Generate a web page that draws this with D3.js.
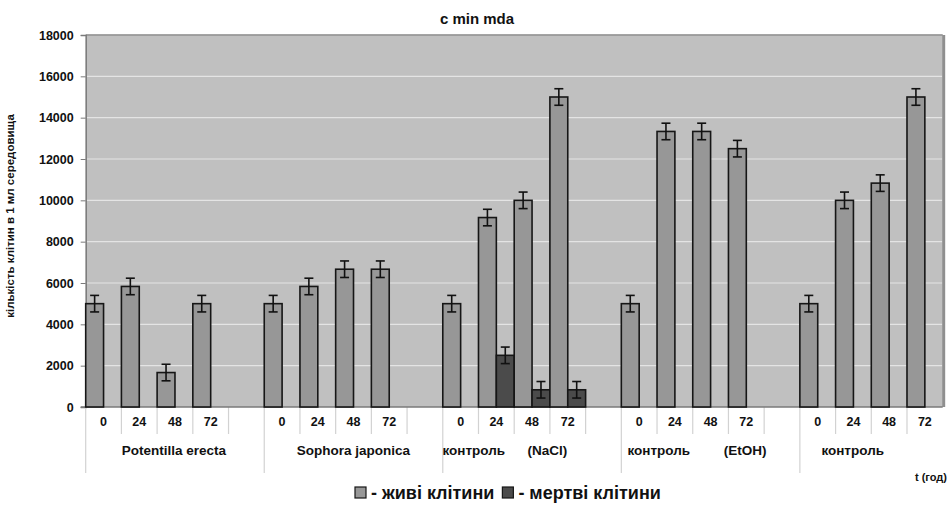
<!DOCTYPE html>
<html>
<head>
<meta charset="utf-8">
<script src="https://cdn.jsdelivr.net/npm/d3@7"></script>
<style>
    body { margin: 0; background: #fff; }
    svg { display: block; font-family: "Liberation Sans", Arial, sans-serif; font-weight: bold; }
</style>
</head>
<body>
<svg width="950" height="510"></svg>
<script>
// ---- Dados
const groups = ['Potentilla erecta', 'Sophora japonica', 'контроль      (NaCl)', 'контроль         (EtOH)', 'контроль'];
const times = ['0', '24', '48', '72'];
const live = [
    [5000, 5833, 1667, 5000],
    [5000, 5833, 6667, 6667],
    [5000, 9167, 10000, 15000],
    [5000, 13333, 13333, 12500],
    [5000, 10000, 10833, 15000]
];
const dead = [
    [0, 0, 0, 0],
    [0, 0, 0, 0],
    [0, 2500, 833, 833],
    [0, 0, 0, 0],
    [0, 0, 0, 0]
];
const errLive = 400;
const errDead = 400;
const yTicks = [0, 2000, 4000, 6000, 8000, 10000, 12000, 14000, 16000, 18000];
const legendLabels = ['- живі клітини', '- мертві клітини'];

const svg = d3.select('svg');
const margens = { left: 85.7, right: 7.3, top: 35, bottom: 103 };
const W = 950, H = 510;
const colors = { live: '#979797', dead: '#4b4b4b', bg: '#c0c0c0' };

// ---- Slots (último grupo sem a coluna vazia)
const slots = [];
groups.forEach((g, gi) => {
    times.forEach((t, ti) => slots.push({ key: gi + '-' + t, g: gi, t: t, ti: ti }));
    if (gi < groups.length - 1) slots.push({ key: gi + '-blank', g: gi, t: '', ti: -1 });
});

const mapX = d3.scaleBand().domain(slots.map(d => d.key)).range([margens.left, W - margens.right]).padding(0);
const mapS = d3.scaleBand().domain(['live', 'dead']).range([0, mapX.bandwidth()]).padding(0);
const mapY = d3.scaleLinear().domain([0, 18000]).range([H - margens.bottom, margens.top]);

// ---- Área do gráfico
svg.append('rect')
    .attr('x', margens.left).attr('y', margens.top)
    .attr('width', W - margens.right - margens.left)
    .attr('height', mapY(0) - margens.top)
    .attr('fill', colors.bg);

svg.append('g')
    .selectAll('line')
    .data(yTicks.filter(d => d > 0))
    .join('line')
    .attr('x1', margens.left).attr('x2', W - margens.right)
    .attr('y1', d => mapY(d)).attr('y2', d => mapY(d))
    .attr('stroke', '#e4e4e4').attr('stroke-width', 1.2);

// bordas
svg.append('line')
    .attr('x1', margens.left).attr('x2', W - margens.right)
    .attr('y1', margens.top).attr('y2', margens.top)
    .attr('stroke', '#8a8a8a').attr('stroke-width', 1.5);
svg.append('line')
    .attr('x1', W - margens.right + 1).attr('x2', W - margens.right + 1)
    .attr('y1', margens.top).attr('y2', mapY(0))
    .attr('stroke', '#8f8f8f').attr('stroke-width', 3);

// ---- Eixo Y
const yAxis = d3.axisLeft(mapY).tickValues(yTicks).tickSize(5).tickPadding(7).tickFormat(d3.format('d'));
const gY = svg.append('g')
    .attr('transform', `translate(${margens.left}, 0)`)
    .call(yAxis);
gY.select('.domain').attr('stroke', '#7a7a7a').attr('stroke-width', 1.5);
gY.selectAll('.tick line').attr('stroke', '#7a7a7a');
gY.selectAll('.tick text')
    .attr('font-family', '"Liberation Sans", Arial, sans-serif')
    .attr('font-weight', 'bold').attr('font-size', 12.5).attr('fill', '#111');

svg.append('text')
    .attr('transform', `translate(14, 216) rotate(-90)`)
    .attr('text-anchor', 'middle')
    .attr('font-size', 11.5).attr('fill', '#111')
    .text('кількість клітин в 1 мл середовища');

// ---- Eixo X (categorias em dois níveis)
const base = mapY(0);
const xg = svg.append('g');
xg.selectAll('line.sep')
    .data(slots.filter((d, i) => i > 0 && d.g === slots[i - 1].g))
    .join('line')
    .attr('class', 'sep')
    .attr('x1', d => mapX(d.key)).attr('x2', d => mapX(d.key))
    .attr('y1', base).attr('y2', base + 27)
    .attr('stroke', '#d2d2d2').attr('stroke-width', 1.2);

const groupStarts = groups.map((g, gi) => slots.find(d => d.g === gi));
xg.selectAll('line.gsep')
    .data(groupStarts)
    .join('line')
    .attr('class', 'gsep')
    .attr('x1', d => mapX(d.key)).attr('x2', d => mapX(d.key))
    .attr('y1', base).attr('y2', base + 66)
    .attr('stroke', '#d2d2d2').attr('stroke-width', 1.2);

xg.selectAll('text.tick')
    .data(slots.filter(d => d.t !== ''))
    .join('text')
    .attr('class', 'tick')
    .attr('x', d => mapX(d.key) + mapX.bandwidth() / 2)
    .attr('y', base + 19)
    .attr('text-anchor', 'middle')
    .attr('font-size', 12.5).attr('fill', '#111')
    .text(d => d.t);

// deslocamento dos rótulos de grupo em relação ao início do grupo (em larguras de coluna)
const groupLabelAt = [2.47, 2.5, 1.74, 2.12, 1.48];
xg.selectAll('text.group')
    .data(groups)
    .join('text')
    .attr('class', 'group')
    .attr('x', (d, i) => mapX(groupStarts[i].key) + groupLabelAt[i] * mapX.bandwidth())
    .attr('y', base + 48)
    .attr('text-anchor', 'middle')
    .attr('font-size', 13.5).attr('fill', '#111')
    .style('white-space', 'pre')
    .text(d => d);

// linha base
svg.append('line')
    .attr('x1', margens.left - 5).attr('x2', W - margens.right)
    .attr('y1', base).attr('y2', base)
    .attr('stroke', '#7a7a7a').attr('stroke-width', 1.5);

// ---- Barras
const barData = [];
slots.filter(d => d.ti >= 0).forEach(s => {
    barData.push({ key: s.key, s: 'live', v: live[s.g][s.ti], e: errLive });
    barData.push({ key: s.key, s: 'dead', v: dead[s.g][s.ti], e: errDead });
});
const shown = barData.filter(d => d.v > 0);

svg.append('g')
    .selectAll('rect')
    .data(shown)
    .join('rect')
    .attr('x', d => mapX(d.key) + mapS(d.s))
    .attr('y', d => mapY(d.v))
    .attr('width', mapS.bandwidth())
    .attr('height', d => mapY(0) - mapY(d.v))
    .attr('fill', d => colors[d.s])
    .attr('stroke', '#161616').attr('stroke-width', 1.6);

// ---- Barras de erro
const eg = svg.append('g').attr('stroke', '#111').attr('stroke-width', 1.6);
const cx = d => mapX(d.key) + mapS(d.s) + mapS.bandwidth() / 2;
eg.selectAll('line.v')
    .data(shown)
    .join('line')
    .attr('class', 'v')
    .attr('x1', cx).attr('x2', cx)
    .attr('y1', d => mapY(d.v + d.e)).attr('y2', d => mapY(d.v - d.e));
eg.selectAll('line.top')
    .data(shown)
    .join('line')
    .attr('class', 'top')
    .attr('x1', d => cx(d) - 4.5).attr('x2', d => cx(d) + 4.5)
    .attr('y1', d => mapY(d.v + d.e)).attr('y2', d => mapY(d.v + d.e));
eg.selectAll('line.bot')
    .data(shown)
    .join('line')
    .attr('class', 'bot')
    .attr('x1', d => cx(d) - 4.5).attr('x2', d => cx(d) + 4.5)
    .attr('y1', d => mapY(d.v - d.e)).attr('y2', d => mapY(d.v - d.e));

// ---- Título e legenda
svg.append('text')
    .attr('x', 477).attr('y', 24)
    .attr('text-anchor', 'middle')
    .attr('font-size', 15).attr('fill', '#111')
    .text('c min mda');

svg.append('text')
    .attr('x', 947).attr('y', 481)
    .attr('text-anchor', 'end')
    .attr('font-size', 11).attr('fill', '#111')
    .text('t (год)');

const lg = svg.append('g').attr('transform', 'translate(355, 487)');
let lx = 0;
legendLabels.forEach((lab, i) => {
    lg.append('rect')
        .attr('x', lx).attr('y', 0).attr('width', 11).attr('height', 11)
        .attr('fill', i === 0 ? colors.live : colors.dead)
        .attr('stroke', '#161616').attr('stroke-width', 1.2);
    const t = lg.append('text')
        .attr('x', lx + 16).attr('y', 12)
        .attr('font-size', 18).attr('fill', '#111')
        .text(lab);
    lx += 16 + t.node().getComputedTextLength() + 8;
});
</script>
</body>
</html>
